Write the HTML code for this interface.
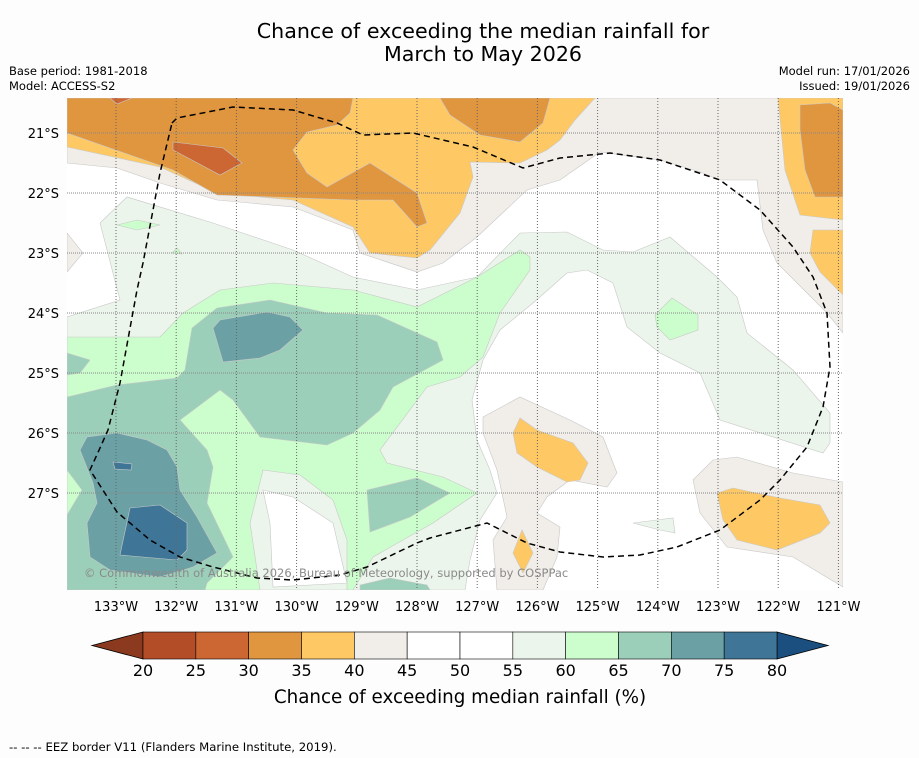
<!DOCTYPE html>
<html><head><meta charset="utf-8">
<style>
body{margin:0;background:#fdfdfd;font-family:"DejaVu Sans","Liberation Sans",sans-serif;}
#wrap{position:relative;width:919px;height:758px;overflow:hidden;}
</style></head>
<body>
<div id="wrap">
<svg id="svg" width="919" height="758" viewBox="0 0 919 758" xmlns="http://www.w3.org/2000/svg" font-family="DejaVu Sans, Liberation Sans, sans-serif">
<text x="483" y="38" text-anchor="middle" font-size="20.6" fill="#000">Chance of exceeding the median rainfall for</text>
<text x="483" y="61" text-anchor="middle" font-size="20.6" fill="#000">March to May 2026</text>
<text x="9" y="75" font-size="11.5">Base period: 1981-2018</text>
<text x="9" y="90" font-size="11.5">Model: ACCESS-S2</text>
<text x="910" y="75" font-size="11.5" text-anchor="end">Model run: 17/01/2026</text>
<text x="910" y="90" font-size="11.5" text-anchor="end">Issued: 19/01/2026</text>

<defs><clipPath id="pc"><rect x="67" y="98" width="776" height="492"/></clipPath></defs>
<g id="map" clip-path="url(#pc)" stroke="#c8c8c8" stroke-width="0.6">
<rect x="67" y="98" width="776" height="492" fill="#ffffff" stroke="none"/>
</g>
<g id="grid"></g>
<g id="eez"></g>
<text x="84" y="577" font-size="11.5" fill="#8a8a8a">© Commonwealth of Australia 2026, Bureau of Meteorology, supported by COSPPac</text>
<g id="axes"></g>
<g id="cbar"></g>
<text x="460" y="703" text-anchor="middle" font-size="18.3">Chance of exceeding median rainfall (%)</text>
<text x="9" y="751" font-size="11.7">--  --  -- EEZ border V11 (Flanders Marine Institute, 2019).</text>
</svg>
</div>
<script>
const NS="http://www.w3.org/2000/svg";
const lonTicks=[133,132,131,130,129,128,127,126,125,124,123,122,121];
const latTicks=[21,22,23,24,25,26,27];
const cbTicks=[20,25,30,35,40,45,50,55,60,65,70,75,80];
const cbColors=["#b34d28","#cc6633","#e0953f","#fec965","#f1ede8","#ffffff","#ffffff","#ebf5eb","#ccfdcc","#9ccfb9","#6ba1a5","#3f7697"];
const lonX=l=>116+(133-l)*60.2;
const latY=l=>133+(l-21)*60;
const cbX=v=>143+(v-20)*(634/60);
function mk(tag,attrs,parent){const e=document.createElementNS(NS,tag);for(const k in attrs)e.setAttribute(k,attrs[k]);parent.appendChild(e);return e;}
const map=document.getElementById('map');
const C={b:"#f1ede8",y:"#fec965",o:"#e0953f",r:"#cc6633",pg:"#ebf5eb",lg:"#ccfdcc",t1:"#9ccfb9",t2:"#6ba1a5",t3:"#3f7697",w:"#ffffff"};
const regions=[
["beige-north",C.b,"67,98 843,98 843,333 827,313 777,263 763,230 757,180 720,180 700,172 660,160 600,152 560,180 527,190 477,237 443,263 417,272 360,253 353,230 293,207 217,200 160,183 117,168 67,163"],
["yellow-north",C.y,"67,98 595,98 575,120 560,140 547,150 520,163 470,162 473,177 460,213 430,250 417,258 370,253 353,227 293,200 217,193 160,167 67,147"],
["yellow-ne",C.y,"778,98 843,98 843,220 800,215 785,170"],
["yellow-east",C.y,"843,230 813,230 810,253 820,272 843,295"],
["orange-nw",C.o,"67,98 353,98 350,113 337,125 307,132 293,150 307,173 327,187 370,163 417,193 427,223 417,227 393,200 353,200 217,195 173,170 67,133"],
["orange-north",C.o,"440,98 550,98 543,123 520,142 480,135 450,115"],
["orange-ne",C.o,"800,105 830,103 843,110 843,197 815,197 805,170 800,130"],
["red-nw",C.r,"173,142 223,148 242,163 220,175 173,150"],
["red-top",C.r,"110,98 132,98 117,104"],
["beige-west",C.b,"67,233 83,253 67,272"],
["palegreen-main",C.pg,"67,317 120,300 100,223 127,197 213,223 293,250 353,277 417,290 477,277 520,233 567,232 603,250 633,252 670,237 717,277 737,297 747,333 793,370 830,413 830,443 823,453 720,420 700,373 660,353 627,327 613,283 587,270 567,273 533,303 500,330 483,360 472,400 477,440 490,470 497,493 480,520 470,560 465,590 67,590"],
["white-pocket",C.w,"233,490 267,457 313,463 347,503 353,540 353,590 247,590 233,523"],
["lightgreen-main",C.lg,"67,337 160,337 183,313 220,290 273,283 353,290 417,307 477,277 520,250 530,257 530,270 500,313 483,357 460,377 427,387 380,450 387,463 443,477 477,493 433,523 373,557 353,590 67,590"],
["palegreen-pocket",C.pg,"263,470 300,475 333,500 347,540 347,590 260,590 250,523"],
["white-pocket-inner",C.w,"263,490 293,497 333,523 347,583 273,587 270,523"],
["teal-west-small",C.t1,"67,353 90,360 80,373 67,375"],
["teal-main",C.t1,"67,397 117,385 177,378 185,370 192,328 217,308 270,300 327,313 377,315 437,342 443,360 393,387 380,410 353,433 327,445 260,437 233,400 220,390 180,420 207,450 213,467 207,503 233,557 207,583 205,590 67,590"],
["lightgreen-west",C.lg,"67,470 82,490 67,515"],
["teal-south",C.t1,"367,490 417,478 450,493 410,517 370,532"],
["teal-south2",C.t1,"360,585 390,578 427,585 430,590 360,590"],
["teal2-north",C.t2,"213,328 220,320 267,312 290,317 303,330 280,350 260,358 223,362"],
["teal2-south",C.t2,"80,450 87,437 117,433 147,440 167,450 177,467 180,490 197,517 217,553 193,567 160,577 110,570 90,557 87,523 97,503 93,483"],
["teal3-south",C.t3,"130,508 160,505 187,523 187,550 177,560 120,555"],
["teal3-small",C.t3,"113,462 132,464 131,470 115,469"],
["lightgreen-east",C.lg,"655,315 672,298 698,315 698,330 670,340 657,327"],
["lightgreen-nw1",C.lg,"117,225 137,220 160,225 137,230"],
["lightgreen-nw2",C.lg,"172,253 177,248 182,254"],
["beige-south",C.b,"483,417 520,397 570,420 603,437 617,473 607,487 570,480 547,497 537,513 560,527 557,557 543,590 497,590 493,540 507,517 497,470 483,433"],
["yellow-south",C.y,"513,433 520,418 537,430 573,443 588,463 580,480 567,482 537,467 517,453"],
["yellow-south-small",C.y,"522,530 533,553 523,573 513,553"],
["beige-se",C.b,"693,480 713,460 737,457 793,473 843,482 843,587 793,557 727,547 700,513"],
["yellow-se",C.y,"717,493 733,488 780,498 820,505 830,523 820,533 777,550 737,540 723,520"],
["palegreen-south",C.pg,"633,523 673,518 675,533 660,530"]
];
regions.forEach(r=>{
  const p=mk('polygon',{points:r[2],fill:r[1]},map);
  
  
});
const grid=document.getElementById('grid');
lonTicks.forEach(l=>{
  const ln=mk('line',{x1:lonX(l),x2:lonX(l),y1:98,y2:590,stroke:"#666","stroke-width":1,"stroke-dasharray":"1,2"},grid);
  
  
});
latTicks.forEach(l=>{
  const ln=mk('line',{x1:67,x2:843,y1:latY(l),y2:latY(l),stroke:"#888","stroke-width":1,"stroke-dasharray":"1,1"},grid);
  
  
});
const eez=document.getElementById('eez');
const ez=mk('polyline',{points:"172,123 177,118 233,107 293,110 337,123 363,135 413,133 473,147 523,168 560,158 610,153 660,160 720,180 760,210 793,247 813,277 827,313 830,367 823,407 807,447 780,480 760,500 720,530 677,547 640,555 603,557 560,552 527,543 487,523 430,538 417,543 367,567 340,575 293,580 257,578 213,567 180,557 150,540 117,512 90,470 100,448 108,430 120,383 137,290 143,263 160,173 172,123",fill:"none",stroke:"#000","stroke-width":1.5,"stroke-dasharray":"6,4"},eez);


const axes=document.getElementById('axes');
lonTicks.forEach(l=>{
  const t=mk('text',{x:lonX(l),y:611,"text-anchor":"middle","font-size":13},axes);
  t.textContent=l+"°W";
  
  
});
latTicks.forEach(l=>{
  const t=mk('text',{x:59,y:latY(l)+5,"text-anchor":"end","font-size":13},axes);
  t.textContent=l+"°S";
  
  
});
const cb=document.getElementById('cbar');
const lt=mk('polygon',{points:"92,645.5 143,632 143,659",fill:"#8b3a1f",stroke:"#000","stroke-width":0.8},cb);


const rt=mk('polygon',{points:"828,645.5 777,632 777,659",fill:"#1b4f80",stroke:"#000","stroke-width":0.8},cb);


cbColors.forEach((c,i)=>{
  const r=mk('rect',{x:cbX(cbTicks[i]),y:632,width:cbX(cbTicks[i+1])-cbX(cbTicks[i]),height:27,fill:c,stroke:"#000","stroke-width":0.6},cb);
  
  
});
cbTicks.forEach(v=>{
  const t=mk('text',{x:cbX(v),y:676,"text-anchor":"middle","font-size":16},cb);
  t.textContent=v;
  
  
});
</script>
</body></html>
